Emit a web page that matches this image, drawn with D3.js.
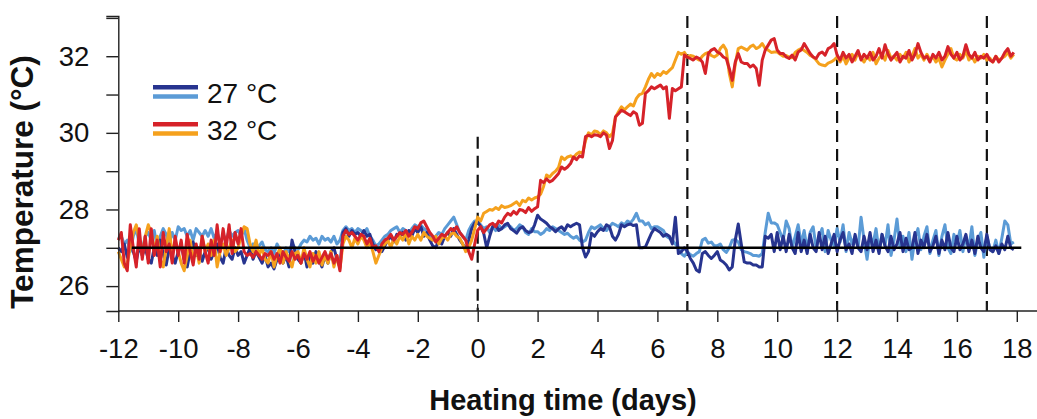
<!DOCTYPE html>
<html>
<head>
<meta charset="utf-8">
<script src="https://cdn.jsdelivr.net/npm/d3@7"></script>
<style>
  body { margin: 0; background: #fff; }
  text { font-family: "Liberation Sans", Arial, sans-serif; }
</style>
</head>
<body>
<svg id="svg1" width="1037" height="419"></svg>
<script>
// readings every 0.1 day, starting at day -12
const tStart = -12, tStep = 0.1;

const dark27 = [
  27.0, 26.9, 27.1, 26.75, 27.15, 26.9, 26.65, 27.05, 26.8, 27.0,
  26.7, 26.6, 27.0, 26.8, 27.2, 26.85, 26.55, 27.0, 26.8, 26.6,
  26.9, 27.1, 26.7, 26.5, 26.9, 27.15, 26.8, 27.0, 26.65, 26.9,
  27.0, 26.7, 26.9, 27.1, 26.75, 26.6, 27.0, 26.8, 26.7, 27.0,
  26.8, 26.9, 26.6, 26.8, 27.0, 26.7, 26.9, 26.75, 26.6, 26.8,
  26.5, 26.6, 26.45, 26.7, 26.9, 26.6, 26.8, 26.5, 27.2, 26.9,
  26.7, 26.6, 26.9, 26.5, 26.8, 26.6, 26.9, 26.7, 26.5, 26.8,
  26.6, 26.9, 27.0, 26.7, 26.5, 27.4, 27.5, 27.3, 27.45, 27.35,
  27.4, 27.3, 27.45, 27.3, 27.35, 27.1, 26.95, 27.0, 26.9, 27.05,
  27.2, 27.3, 27.15, 27.35, 27.3, 27.4, 27.2, 27.45, 27.3, 27.5,
  27.4, 27.55, 27.3, 27.4, 27.2, 27.05, 27.0, 27.2, 27.1, 27.3,
  27.4, 27.3, 27.5, 27.35, 27.2, 27.1, 26.95, 27.2, 27.5, 27.65,
  27.68, 27.55, 27.38, 27.0, 27.3, 27.55, 27.6, 27.45, 27.5, 27.6,
  27.64, 27.5, 27.45, 27.38, 27.5, 27.55, 27.45, 27.4, 27.42, 27.6,
  27.85, 27.75, 27.7, 27.64, 27.55, 27.5, 27.42, 27.5, 27.55, 27.45,
  27.6, 27.55, 27.6, 27.64, 27.6, 27.0, 26.76, 26.9, 27.38, 27.3,
  27.42, 27.5, 27.45, 27.6, 27.55, 27.3, 27.2, 27.35, 27.6, 27.55,
  27.6, 27.62, 27.58, 27.6, 27.0, 27.0, 27.02, 27.2, 27.38, 27.5,
  27.45, 27.4, 27.3, 27.35, 27.3, 27.1, 27.8, 26.85, 26.9, 27.0,
  26.9, 26.72, 26.6, 26.42, 26.37, 26.85, 26.9, 26.8, 26.72, 26.8,
  26.9, 26.68, 26.63, 26.55, 26.42, 26.5, 27.2, 27.62, 27.1, 26.63,
  26.6, 26.6, 26.55, 26.55, 26.5, 26.5, 27.3, 27.25, 27.35, 26.9,
  27.4, 26.95, 27.3, 26.9, 27.35, 27.0, 26.85, 27.4, 26.9, 27.2,
  26.85, 27.35, 27.0, 26.9, 27.4, 26.95, 27.3, 26.85, 27.1, 27.35,
  26.9, 27.2, 27.4, 26.95, 27.1, 26.85, 27.35, 27.0, 26.9, 27.3,
  26.95, 27.4, 26.9, 27.2, 26.85, 27.35, 27.05, 26.9, 27.3, 26.95,
  27.1, 27.4, 26.9, 27.25, 26.95, 27.0, 27.4, 26.85, 27.2, 27.0,
  27.35, 26.9, 27.05, 27.3, 26.85, 27.2, 26.95, 27.4, 27.0, 26.9,
  27.3, 26.95, 27.1, 27.35, 26.9, 27.2, 26.85, 27.3, 27.0, 26.9,
  27.35, 26.95, 26.9, 27.05, 26.85, 27.1, 26.95, 27.3, 27.0, 26.95
];

const light27 = [
  27.25, 27.3, 27.1, 27.2, 26.9, 27.3, 27.5, 27.1, 26.95, 27.3,
  27.4, 27.2, 27.45, 27.0, 27.3, 27.5, 27.35, 27.1, 27.4, 27.2,
  27.55, 27.45, 27.5, 27.3, 27.45, 27.2, 27.5, 27.4, 27.3, 27.45,
  27.3, 27.5, 27.25, 27.4, 27.1, 27.35, 27.2, 27.45, 27.3, 27.4,
  27.45, 27.3, 27.5, 27.2, 27.0, 27.1, 26.9, 27.05, 27.15, 26.95,
  26.9, 27.0, 26.85, 27.1, 26.95, 26.8, 27.0, 26.9, 27.1, 27.0,
  26.95, 27.1, 27.2, 27.15, 27.3, 27.2, 27.25, 27.1, 27.3, 27.2,
  27.25, 27.15, 27.3, 27.1, 27.2, 27.45, 27.55, 27.45, 27.5, 27.4,
  27.5, 27.45, 27.4, 27.5, 27.3, 27.2, 27.05, 27.1, 27.2, 27.3,
  27.35, 27.45, 27.5, 27.55, 27.4, 27.5, 27.45, 27.35, 27.5, 27.6,
  27.55, 27.6, 27.5, 27.45, 27.35, 27.2, 27.3, 27.4, 27.35, 27.5,
  27.6, 27.7, 27.8, 27.6, 27.4, 27.3, 27.2, 27.45, 27.6, 27.7,
  27.7, 27.6, 27.5, 27.55, 27.4, 27.55, 27.45, 27.6, 27.5, 27.55,
  27.6, 27.55, 27.45, 27.5, 27.6, 27.55, 27.4, 27.35, 27.5, 27.42,
  27.42, 27.35, 27.4, 27.5, 27.45, 27.55, 27.5, 27.45, 27.4, 27.35,
  27.38, 27.3, 27.25, 27.3, 27.2, 27.15, 27.2, 27.4, 27.55, 27.5,
  27.55, 27.6, 27.5, 27.45, 27.55, 27.64, 27.6, 27.55, 27.65, 27.6,
  27.7, 27.65, 27.75, 27.9, 27.7, 27.7, 27.6, 27.65, 27.5, 27.55,
  27.55, 27.5, 27.45, 27.3, 27.25, 27.2, 27.1, 27.0, 26.85, 26.78,
  26.9, 26.82, 26.78, 26.85, 26.9, 27.2, 27.25, 27.12, 27.15, 27.05,
  27.05, 27.1, 26.95, 26.88, 27.0, 27.2, 27.22, 27.15, 26.95, 26.9,
  26.88, 26.85, 26.8, 26.8, 26.78, 26.85, 27.4, 27.9, 27.65, 27.65,
  27.6, 27.4, 27.2, 27.7, 27.5, 27.0, 27.3, 27.6, 27.1, 27.45,
  26.95, 27.4, 27.55, 27.0, 27.3, 27.5, 26.9, 27.45, 27.2, 27.05,
  27.5, 27.15, 27.6, 26.9, 27.4, 27.1, 27.3, 27.0, 27.8, 27.2,
  26.7, 27.3, 27.1, 27.5, 26.9, 27.35, 27.05, 27.6, 26.8, 27.2,
  27.75, 27.0, 27.3, 26.9, 27.4, 26.7, 27.25, 27.5, 26.95, 27.3,
  27.55, 26.85, 27.2, 27.45, 26.8, 27.3, 27.6, 27.0, 26.85, 27.35,
  27.1, 27.45, 26.9, 27.3, 27.0, 27.55, 26.8, 27.2, 27.4, 26.75,
  27.3, 27.0, 26.9, 27.2, 26.85, 27.25, 27.7, 27.6, 27.1, 27.15
];

const red32 = [
  27.2, 27.4, 26.6, 26.4, 27.6, 27.0, 26.5, 27.5, 26.7, 27.3,
  26.6, 27.5, 26.8, 27.2, 26.5, 27.4, 26.9, 27.1, 26.6, 27.3,
  26.8, 27.2, 26.6, 27.35, 26.9, 26.55, 27.1, 26.7, 27.3, 26.9,
  26.6, 27.2, 26.8, 27.6, 26.9, 27.5, 27.0, 27.6, 26.85, 27.4,
  27.1, 27.5, 26.9, 26.8, 26.85, 26.75, 26.9, 26.8, 26.7, 26.85,
  26.8, 26.9, 26.7, 26.85, 26.6, 26.9, 26.75, 26.65, 26.9, 26.7,
  26.8, 26.6, 26.85, 26.7, 26.9, 26.65, 26.8, 26.6, 26.75, 26.9,
  26.7, 26.85, 26.6, 26.8, 26.4, 27.3, 27.45, 27.35, 27.4, 27.3,
  27.2, 27.35, 27.3, 27.1, 27.25, 27.0, 27.05, 26.9, 27.1, 27.2,
  27.25, 27.35, 27.2, 27.3, 27.4, 27.35, 27.45, 27.3, 27.4, 27.55,
  27.5, 27.65, 27.7, 27.55, 27.4, 27.3, 27.15, 27.25, 27.35, 27.3,
  27.4, 27.5, 27.45, 27.55, 27.4, 27.3, 27.2, 26.9, 26.7, 27.1,
  27.46, 27.55, 27.4, 27.5, 27.6, 27.64, 27.55, 27.7, 27.65, 27.8,
  27.9, 27.85, 27.95, 27.88, 28.0, 27.98, 27.92, 28.05, 27.95, 28.02,
  28.07, 28.76, 28.7, 28.8, 28.72, 28.76, 28.85, 28.94, 29.11, 29.05,
  29.11, 29.2, 29.37, 29.3, 29.4, 29.37, 29.9, 29.94, 29.9, 29.95,
  29.94, 29.9, 30.0, 29.94, 29.59, 29.8, 30.42, 30.5, 30.59, 30.55,
  30.5, 30.45, 30.55, 30.5, 30.2, 30.25, 31.03, 31.1, 31.2, 31.15,
  31.2, 31.25, 31.15, 31.2, 30.38, 31.16, 31.1, 31.15, 31.2, 32.03,
  31.98, 31.94, 31.9, 31.98, 31.94, 31.85, 31.55, 32.07, 32.16, 32.2,
  32.11, 32.07, 31.98, 31.94, 31.68, 31.37, 31.85, 32.07, 31.85, 31.81,
  31.81, 31.72, 31.77, 31.68, 31.24, 31.9, 32.16, 32.29, 32.42, 32.46,
  32.16, 32.07, 32.07, 31.98, 31.94, 32.03, 31.9, 32.11, 32.16, 32.33,
  32.2, 32.07, 31.98, 31.94, 32.07, 32.11, 32.03, 32.2, 32.24, 32.33,
  32.03, 31.9, 32.1, 31.95, 32.05, 31.85, 32.0, 32.15, 31.9, 32.05,
  31.95, 32.1, 31.9, 32.0, 32.2, 31.95, 32.3, 32.05, 31.9, 32.0,
  32.1, 31.85, 32.0, 31.95, 32.15, 31.9, 32.05, 32.33, 32.1, 31.95,
  32.0, 31.85, 32.05, 31.95, 32.1, 31.9, 32.0, 32.25, 32.05, 31.95,
  32.1, 31.9, 32.0, 32.3, 32.05, 31.95, 32.1, 31.9, 32.0, 31.95,
  32.05, 31.9, 31.85, 32.0, 31.85, 31.95, 32.1, 32.2, 32.0, 32.1
];

const orange32 = [
  26.9, 26.7, 26.5, 26.6, 27.0, 27.4, 27.6, 27.2, 26.8, 27.3,
  27.6, 27.4, 26.9, 27.3, 26.7, 26.5, 27.0, 27.5, 26.8, 27.2,
  26.9, 26.6, 26.4, 26.8, 27.2, 26.7, 27.0, 26.6, 27.3, 26.9,
  27.1, 26.8, 27.2, 26.5, 26.9, 27.1, 26.8, 27.0, 27.2, 26.9,
  27.0, 27.3, 27.55, 27.5, 27.1, 26.9, 27.2, 26.8, 27.0, 26.7,
  26.6, 26.9, 26.5, 26.8, 27.0, 26.6, 26.9, 26.7, 26.5, 26.85,
  26.9, 26.6, 27.0, 26.7, 26.5, 26.85, 26.6, 26.9, 26.55, 26.8,
  26.6, 26.9, 26.5, 26.8, 26.45, 27.1, 27.3, 27.2, 27.0, 27.25,
  27.1, 27.3, 27.2, 27.0, 27.15, 26.9, 26.6, 26.8, 27.0, 27.1,
  27.2, 27.0, 27.25, 27.1, 27.3, 27.2, 27.4, 27.1, 27.3, 27.2,
  27.35, 27.2, 27.4, 27.3, 27.25, 27.2, 27.3, 27.1, 27.25, 27.3,
  27.2, 27.35, 27.4, 27.3, 27.25, 27.1, 26.9, 27.0, 27.2, 27.5,
  27.8, 27.7, 27.9, 27.95, 28.0, 27.98, 28.05, 28.0, 28.1, 28.05,
  28.07, 28.1, 28.15, 28.2, 28.1, 28.24, 28.2, 28.3, 28.25, 28.3,
  28.33, 28.4, 28.6, 28.9, 28.85, 28.94, 29.0, 29.1, 29.37, 29.3,
  29.37, 29.4, 29.35, 29.45, 29.5, 29.46, 29.8, 30.0, 29.95, 30.05,
  30.03, 29.95, 30.05, 30.0, 29.9, 29.99, 30.4, 30.55, 30.68, 30.6,
  30.68, 30.75, 30.7, 30.9, 31.0, 31.03, 31.2, 31.4, 31.55, 31.45,
  31.55, 31.5, 31.6, 31.55, 31.63, 31.7, 31.9, 32.1, 32.05, 32.1,
  31.98, 32.02, 32.0, 31.94, 31.9, 32.0, 32.07, 32.1, 32.02, 31.98,
  32.03, 32.2, 32.29, 32.16, 31.55, 31.2, 31.8, 32.2, 32.24, 32.2,
  32.16, 32.25, 32.29, 32.2, 32.24, 32.33, 32.2, 32.16, 32.1, 32.11,
  32.11, 32.05, 32.0, 32.02, 31.98, 31.96, 32.1, 32.16, 32.2, 32.15,
  32.1, 32.02, 31.98, 31.9, 31.8, 31.77, 31.75, 31.82, 31.85, 31.9,
  31.98, 31.85, 32.0, 31.8, 31.95, 32.05, 31.9, 32.1, 31.95, 31.85,
  32.0, 31.9, 32.1, 31.8, 31.95, 32.05, 31.9, 32.15, 31.95, 32.0,
  31.9, 32.05, 31.95, 32.1, 31.85, 32.0, 32.2, 31.95, 32.05, 31.9,
  32.05, 31.9, 32.0, 31.85, 31.95, 31.72, 31.9, 32.05, 32.2, 31.95,
  31.9, 32.05, 31.95, 32.15, 31.9, 32.0, 31.85, 32.0, 31.95, 32.05,
  31.9, 31.95, 31.85, 32.0, 31.9, 31.95, 32.0, 32.1, 31.95, 32.05
];

const xTicks = [-12, -10, -8, -6, -4, -2, 0, 2, 4, 6, 8, 10, 12, 14, 16, 18];
const innerTicks = [0, 7, 12, 17];
const yTicks = [26, 27, 28, 29, 30, 31, 32, 33];
const markDays = [7, 12, 17];
const zeroMarkTop = 29.9;
const setpoint = 27, setpointFrom = -11.55, setpointTo = 18.15;

const colors = { dark: "#27348f", light: "#5b9bd6", red: "#d62229", orange: "#f5a11d" };

const svg = d3.select("#svg1");
const W = 1037;
const x = d3.scaleLinear().domain([-12, 18]).range([118.3, 1016.8]);
const y = d3.scaleLinear().domain([25.35, 33.05]).range([311, 16]);

// dashed period markers
svg.append("line")
  .attr("x1", x(0)).attr("x2", x(0))
  .attr("y1", y(zeroMarkTop)).attr("y2", y(25.35))
  .attr("stroke", "#111").attr("stroke-width", 2.2).attr("stroke-dasharray", "12,7");
svg.selectAll(".mark").data(markDays).enter().append("line")
  .attr("class", "mark")
  .attr("x1", d => x(d)).attr("x2", d => x(d))
  .attr("y1", y(33.05)).attr("y2", y(25.35))
  .attr("stroke", "#111").attr("stroke-width", 2.2).attr("stroke-dasharray", "12,7");

const line = d3.line()
  .x((d, i) => x(tStart + i * tStep))
  .y(d => y(d));

const series = [
  { values: light27, color: colors.light },
  { values: dark27, color: colors.dark },
  { values: orange32, color: colors.orange },
  { values: red32, color: colors.red }
];
svg.selectAll(".series").data(series).enter().append("path")
  .attr("class", "series")
  .attr("d", d => line(d.values))
  .attr("fill", "none")
  .attr("stroke", d => d.color)
  .attr("stroke-width", 3)
  .attr("stroke-linejoin", "round");

svg.append("line")
  .attr("x1", x(setpointFrom)).attr("x2", x(setpointTo))
  .attr("y1", y(setpoint)).attr("y2", y(setpoint))
  .attr("stroke", "#000").attr("stroke-width", 2.5);

// axes
const xAxis = svg.append("g")
  .attr("transform", "translate(0,311)")
  .call(d3.axisBottom(x).tickValues(xTicks).tickSize(11).tickPadding(16).tickFormat(d => String(d)));
xAxis.select(".domain").remove();
xAxis.append("line").attr("x1", x(-12)).attr("x2", W).attr("stroke", "#222").attr("stroke-width", 1.4);
xAxis.selectAll(".inner").data(innerTicks).enter().append("line")
  .attr("class", "inner")
  .attr("x1", d => x(d)).attr("x2", d => x(d))
  .attr("y1", 0).attr("y2", -7)
  .attr("stroke", "#222").attr("stroke-width", 1.4);

const yAxis = svg.append("g")
  .attr("transform", "translate(" + x(-12) + ",0)")
  .call(d3.axisLeft(y).tickValues(yTicks).tickSize(12).tickPadding(17)
    .tickFormat(d => d % 2 === 0 ? String(d) : ""));
yAxis.select(".domain").attr("stroke", "#222").attr("stroke-width", 1.4);

svg.selectAll(".tick line").attr("stroke", "#222").attr("stroke-width", 1.4);
svg.selectAll(".tick text")
  .attr("font-size", 27.5)
  .attr("fill", "#111")
  .style("font-family", "'Liberation Sans', Arial, sans-serif");

svg.append("text")
  .attr("x", 563).attr("y", 410)
  .attr("text-anchor", "middle")
  .attr("font-size", 29).attr("font-weight", "bold").attr("fill", "#111")
  .text("Heating time (days)");
svg.append("text")
  .attr("transform", "translate(33,182) rotate(-90)")
  .attr("text-anchor", "middle")
  .attr("font-size", 31.5).attr("font-weight", "bold").attr("fill", "#111")
  .text("Temperature (°C)");

// legend
const legend = [
  { label: "27 °C", colors: [colors.dark, colors.light] },
  { label: "32 °C", colors: [colors.red, colors.orange] }
];
const items = svg.selectAll(".legend-item").data(legend).enter().append("g")
  .attr("class", "legend-item")
  .attr("transform", (d, i) => "translate(153," + (87.3 + i * 37) + ")");
items.each(function(d) {
  const g = d3.select(this);
  d.colors.forEach((c, j) => {
    g.append("line").attr("x1", 0).attr("x2", 45)
      .attr("y1", j * 9.2).attr("y2", j * 9.2)
      .attr("stroke", c).attr("stroke-width", 4.5);
  });
});
items.append("text")
  .attr("x", 54).attr("y", 16)
  .attr("font-size", 28).attr("fill", "#111")
  .text(d => d.label);
</script>
</body>
</html>
